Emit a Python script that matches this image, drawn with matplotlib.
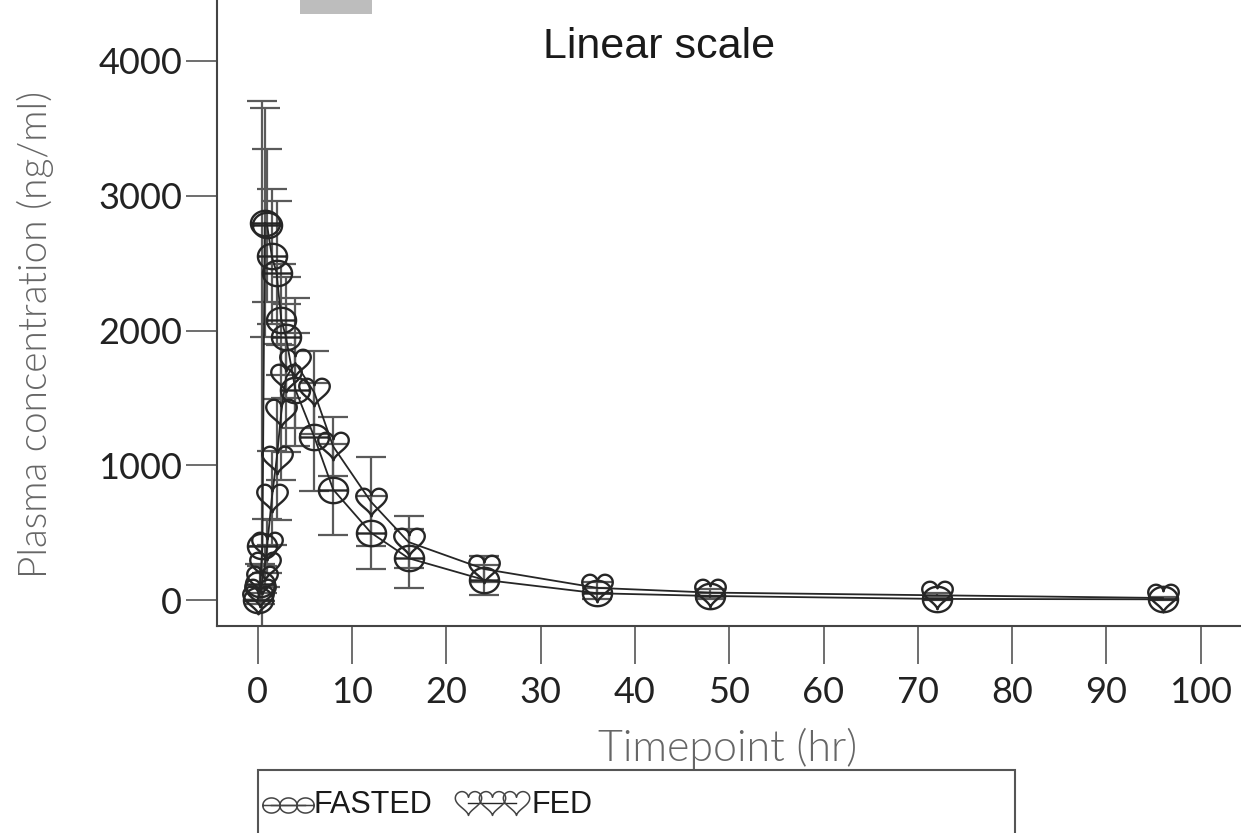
import numpy as np
import matplotlib.pyplot as plt
from matplotlib.path import Path
from matplotlib.patches import Rectangle
from matplotlib.lines import Line2D

# mean (SD) plasma concentration by sampling time, two treatment arms
time_hr = [0, 0.25, 0.5, 0.75, 1, 1.5, 2, 2.5, 3, 4, 6, 8, 12, 16, 24, 36, 48, 72, 96]
fasted_mean = [0, 120, 400, 2800, 2780, 2550, 2430, 2080, 1950, 1560, 1210, 820, 500, 310, 150, 50, 30, 8, 5]
fasted_sd = [0, 150, 3300, 850, 570, 500, 530, 410, 450, 420, 400, 340, 270, 220, 110, 40, 25, 8, 5]
fed_mean = [0, 50, 150, 250, 400, 757, 1040, 1390, 1650, 1760, 1540, 1140, 730, 430, 230, 90, 55, 35, 15]
fed_sd = [0, 60, 100, 150, 200, 350, 450, 500, 550, 480, 310, 220, 330, 190, 100, 40, 25, 15, 10]

x_ticks = [0, 10, 20, 30, 40, 50, 60, 70, 80, 90, 100]
y_ticks = [0, 1000, 2000, 3000, 4000]

W, H = 1241, 833

# symbol shapes: circle with a bar through it, and a heart
th = np.linspace(0, 2 * np.pi, 61)
circ_v = np.column_stack([np.cos(th), 0.87 * np.sin(th)])
circ_v = np.vstack([circ_v, [[-1, 0], [1, 0]]])
circ_c = [Path.MOVETO] + [Path.LINETO] * 59 + [Path.CLOSEPOLY] + [Path.MOVETO, Path.LINETO]
circle_bar = Path(circ_v, circ_c)

t = np.linspace(0, 2 * np.pi, 81)
hx = 16 * np.sin(t) ** 3
hy = 13 * np.cos(t) - 5 * np.cos(2 * t) - 2 * np.cos(3 * t) - np.cos(4 * t)
heart_v = np.column_stack([hx, hy + 2.5])
heart = Path(heart_v, [Path.MOVETO] + [Path.LINETO] * 79 + [Path.CLOSEPOLY])

fig = plt.figure(figsize=(W / 100, H / 100), dpi=100)
ax = fig.add_axes([217 / W, (H - 626) / H, 1 - 217 / W, 626 / H])

ink = '#262626'
bar_col = '#5a5a5a'

for mean, sd, mk, ms in [(fasted_mean, fasted_sd, circle_bar, 21),
                         (fed_mean, fed_sd, heart, 22)]:
    ax.errorbar(time_hr, mean, yerr=sd, fmt='none', ecolor=bar_col,
                elinewidth=1.6, capsize=11, capthick=1.6, zorder=2)
    ax.plot(time_hr, mean, color=ink, lw=1.3, marker=mk, markersize=ms,
            markerfacecolor='none', markeredgecolor=ink, markeredgewidth=1.7,
            zorder=3)

ax.set_xlim((217 - 257.7) / 9.43, (W - 257.7) / 9.43)
ax.set_ylim((600 - 626) / 0.13475, 600 / 0.13475)

for side in ['top', 'right']:
    ax.spines[side].set_visible(False)
for side in ['left', 'bottom']:
    ax.spines[side].set_color('#444444')
    ax.spines[side].set_linewidth(1.5)

ax.set_xticks(x_ticks)
ax.set_yticks(y_ticks)
ax.tick_params(axis='x', direction='out', length=27, width=1.2, color='#555555',
               pad=9, labelsize=26, labelcolor='#222222')
ax.tick_params(axis='y', direction='out', length=22, width=1.2, color='#555555',
               pad=3, labelsize=26, labelcolor='#222222')
for lab in ax.get_xticklabels() + ax.get_yticklabels():
    lab.set_family('Lato')

ax.set_ylabel('Plasma concentration (ng/ml)', family='Lato', weight=300,
              fontsize=28, color='#666666')
ax.yaxis.set_label_coords((54 - 217) / 1024, (626 - 334) / 626)
ax.set_xlabel('Timepoint (hr)', family='Lato', weight=300,
              fontsize=31, color='#666666')
ax.xaxis.set_label_coords((728 - 217) / 1024, (626 - 728) / 626)

ax.text((659 - 217) / 1024, (626 - 47) / 626, 'Linear scale',
        family=['Liberation Sans Narrow', 'Liberation Sans'], fontsize=31,
        color='#1a1a1a', ha='center', va='center', transform=ax.transAxes)

# grey block at the top edge
fig.patches.append(Rectangle((300 / W, (H - 14) / H), 72 / W, 20 / H,
                             transform=fig.transFigure, facecolor='#bdbdbd',
                             edgecolor='none'))

# legend box
fig.patches.append(Rectangle((258 / W, -0.05), (1015 - 258) / W, (H - 770) / H + 0.05,
                             transform=fig.transFigure, fill=False,
                             edgecolor='#555555', linewidth=1.5, clip_on=False))
ly = (H - 805) / H
fig.add_artist(Line2D(np.array([271, 288, 305]) / W, [ly] * 3, transform=fig.transFigure,
                      color=ink, lw=1.0, marker=circle_bar, markersize=12.5,
                      markerfacecolor='none', markeredgecolor='#444444',
                      markeredgewidth=1.1))
fig.add_artist(Line2D(np.array([468, 492, 516]) / W, [ly + 0.003] * 3, transform=fig.transFigure,
                      color=ink, lw=1.0, marker=heart, markersize=19,
                      markerfacecolor='none', markeredgecolor='#444444',
                      markeredgewidth=1.1))
fig.text(314 / W, ly, 'FASTED', family=['Liberation Sans Narrow', 'Liberation Sans'],
         fontsize=22, color='#1a1a1a', va='center', ha='left')
fig.text(531 / W, ly, 'FED', family=['Liberation Sans Narrow', 'Liberation Sans'],
         fontsize=22, color='#1a1a1a', va='center', ha='left')

fig.savefig('out.png', dpi=100)
